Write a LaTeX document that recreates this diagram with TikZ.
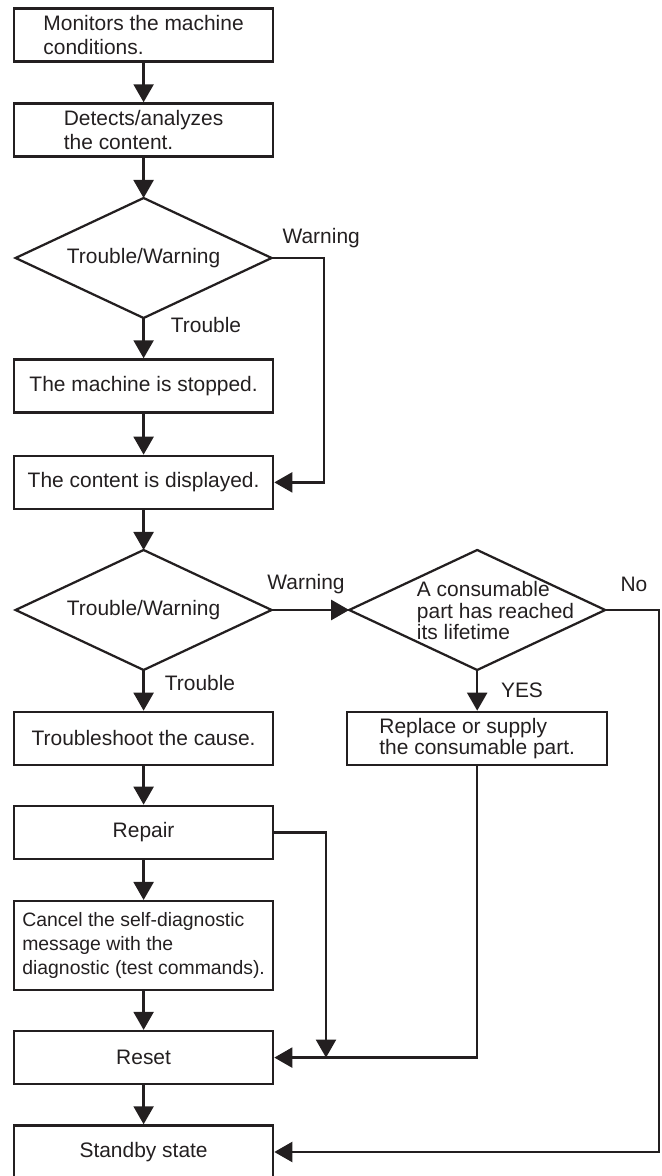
\documentclass[tikz,border=0pt]{standalone}
\usepackage{fontspec}
\setmainfont{Liberation Sans}
\usetikzlibrary{arrows.meta,shapes.geometric}

\definecolor{ink}{HTML}{231F20}

\begin{document}
\begin{tikzpicture}[
    >={Triangle[length=4.5mm,width=5mm]},
    line join=miter,
    every node/.style={text=ink,font=\fontsize{14.9}{16.6}\selectfont},
    stepbox/.style={draw=ink,line width=1.6pt,rectangle,
        minimum width=6.48cm,minimum height=1.33cm,inner sep=2pt,align=left},
    decision/.style={draw=ink,line width=1.6pt,diamond,aspect=2.13,
        minimum width=6.4cm,minimum height=3cm,inner sep=0pt,outer sep=0pt},
    flow/.style={draw=ink,line width=1.6pt,->}
]

% Page frame
\useasboundingbox (0,0) rectangle (16.55,29.4);

% Main column of steps
\node[stepbox] (mon) at (3.59,28.525) {Monitors the machine\\conditions.};
\node[stepbox] (det) at (3.59,26.15) {Detects/analyzes\\the content.};
\node[decision] (dia1) at (3.59,22.95) {Trouble/Warning};
\node[stepbox] (stop) at (3.59,19.75) {The machine is stopped.};
\node[stepbox] (disp) at (3.59,17.34) {The content is displayed.};
\node[decision] (dia2) at (3.59,14.15) {Trouble/Warning};
\node[stepbox] (shoot) at (3.59,10.94) {Troubleshoot the cause.};
\node[stepbox] (repair) at (3.59,8.59) {Repair};
\node[stepbox,minimum height=2.225cm,
    font=\fontsize{13.8}{17}\selectfont] (cancel) at (3.59,5.76)
    {Cancel the self-diagnostic\\message with the\\diagnostic (test commands).};
\node[stepbox] (reset) at (3.59,2.96) {Reset};
\node[stepbox] (stand) at (3.59,0.6) {Standby state};

% Consumable branch
\node[decision] (cons) at (11.93,14.15) {};
\node[anchor=west,align=left,font=\fontsize{14.9}{15.2}\selectfont]
    (constext) at (10.3,14.13)
    {A consumable\\part has reached\\its lifetime};
\node[stepbox,minimum width=6.5cm,font=\fontsize{14.9}{15}\selectfont]
    (repl) at (11.93,10.94) {Replace or supply\\the consumable part.};

% Turning points of the return lines
\coordinate (warnx) at (8.1,0);
\coordinate (repx) at (8.15,0);
\coordinate (nox) at (16.475,0);

% Straight steps
\draw[flow] (mon) -- (det);
\draw[flow] (det) -- (dia1);
\draw[flow] (dia1) -- (stop);
\draw[flow] (stop) -- (disp);
\draw[flow] (disp) -- (dia2);
\draw[flow] (dia2) -- (shoot);
\draw[flow] (shoot) -- (repair);
\draw[flow] (repair) -- (cancel);
\draw[flow] (cancel) -- (reset);
\draw[flow] (reset) -- (stand);
\draw[flow] (dia2.east) -- (cons.west);
\draw[flow] (cons.south) -- (repl.north);

% Lines going round
\draw[flow] (dia1.east) -| (warnx |- disp) -- (disp.east);
\draw[flow] (repair.east) -| (repx |- reset);
\draw[flow] (repl.south) |- (reset.east);
\draw[flow] (cons.east) -| (nox |- stand) -- (stand.east);

% Branch labels
\node (warn1) at (8.03,23.45) {Warning};
\node (trou1) at (5.15,21.275) {Trouble};
\node (warn2) at (7.65,14.8) {Warning};
\node (trou2) at (5.0,12.325) {Trouble};
\node (nolbl) at (15.85,14.8) {No};
\node (yeslbl) at (13.05,12.15) {YES};

\end{tikzpicture}
\end{document}
